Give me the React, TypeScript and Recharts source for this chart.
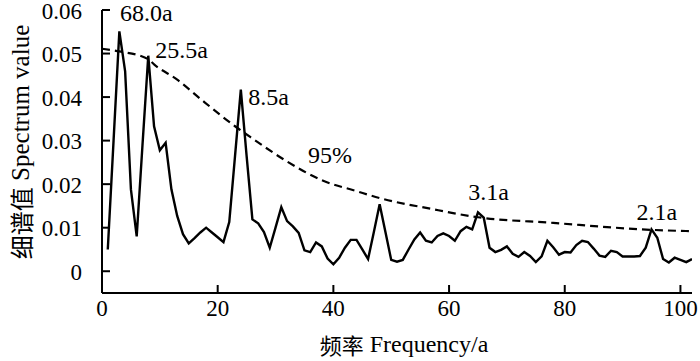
import React from 'react';
import { LineChart, Line, XAxis, YAxis, ReferenceDot } from 'recharts';

const freq = [
  1, 2, 3, 4, 5, 6, 7, 8, 9, 10, 11, 12, 13, 14, 15, 16, 17, 18, 19, 20,
  21, 22, 23, 24, 25, 26, 27, 28, 29, 30, 31, 32, 33, 34, 35, 36, 37, 38, 39, 40,
  41, 42, 43, 44, 45, 46, 47, 48, 49, 50, 51, 52, 53, 54, 55, 56, 57, 58, 59, 60,
  61, 62, 63, 64, 65, 66, 67, 68, 69, 70, 71, 72, 73, 74, 75, 76, 77, 78, 79, 80,
  81, 82, 83, 84, 85, 86, 87, 88, 89, 90, 91, 92, 93, 94, 95, 96, 97, 98, 99, 100,
  101, 102,
];

const spectrum = [
  0.005, 0.03, 0.0551, 0.0459, 0.0188, 0.008, 0.029, 0.0495, 0.0333, 0.0278,
  0.0295, 0.0188, 0.0127, 0.0085, 0.0064, 0.0076, 0.0089, 0.01, 0.0089, 0.0078,
  0.0067, 0.0113, 0.0265, 0.0417, 0.0265, 0.0119, 0.011, 0.009, 0.0054, 0.01,
  0.0147, 0.0115, 0.0103, 0.0088, 0.0048, 0.0044, 0.0066, 0.0057, 0.0029, 0.0016,
  0.0031, 0.0054, 0.0072, 0.0072, 0.005, 0.0028, 0.009, 0.0154, 0.009, 0.0026,
  0.0022, 0.0026, 0.005, 0.0073, 0.0089, 0.007, 0.0066, 0.0081, 0.0087, 0.0081,
  0.007, 0.0092, 0.0102, 0.0096, 0.0135, 0.0123, 0.0054, 0.0044, 0.0049, 0.0057,
  0.004, 0.0033, 0.0044, 0.0035, 0.0021, 0.0034, 0.007, 0.0055, 0.0038, 0.0044,
  0.0043, 0.006, 0.007, 0.0067, 0.0052, 0.0036, 0.0033, 0.0047, 0.0044, 0.0034,
  0.0034, 0.0034, 0.0035, 0.0054, 0.0096, 0.0077, 0.0028, 0.002, 0.0031, 0.0026,
  0.0021, 0.0028,
];

const noiseFreq = [0, 3, 8, 9, 13, 17, 23, 26, 32, 38, 44, 48, 57, 65, 78, 95, 102];
const noise95 = [
  0.0511, 0.0505, 0.0487, 0.0475, 0.044, 0.0396, 0.0333, 0.0305, 0.0252, 0.0209,
  0.0184, 0.0168, 0.0143, 0.0124, 0.0111, 0.0095, 0.0092,
];

const noteText = ['68.0a', '25.5a', '8.5a', '95%', '3.1a', '2.1a'];
const noteX = [3.1, 9.2, 25.3, 35.6, 63.3, 92.4];
const noteY = [0.0592, 0.0509, 0.04, 0.0268, 0.0181, 0.0136];

const xTicks = [0, 20, 40, 60, 80, 100];
const yTicks = [0, 0.01, 0.02, 0.03, 0.04, 0.05, 0.06];

const xLabelCn = '频率';
const xLabelEn = 'Frequency/a';
const yLabelCn = '细谱值';
const yLabelEn = 'Spectrum value';

const SERIF = '"Liberation Serif", "Times New Roman", serif';
const CJK = '"Noto Sans CJK SC", sans-serif';

const data = freq.map((f, i) => ({ f, v: spectrum[i] }));
const noiseData = noiseFreq.map((f, i) => ({ f, n: noise95[i] }));

const fmtY = (v: number) => (v === 0 ? '0' : v.toFixed(2));

const XTick = (p: any) => (
  <text
    x={p.x}
    y={p.y + 23}
    textAnchor="middle"
    dominantBaseline="central"
    fontSize={23}
    fill="#000"
    fontFamily={SERIF}
    style={{ fontFamily: SERIF }}
  >
    {p.payload.value}
  </text>
);

const YTick = (p: any) => (
  <text
    x={p.x - 28}
    y={p.y + 1}
    textAnchor="end"
    dominantBaseline="central"
    fontSize={23}
    fill="#000"
    fontFamily={SERIF}
    style={{ fontFamily: SERIF }}
  >
    {fmtY(p.payload.value)}
  </text>
);

export default function App() {
  return (
    <div style={{ position: 'absolute', left: 0, top: 0, background: '#fff', fontFamily: SERIF }}>
      <LineChart
        width={700}
        height={361}
        data={data}
        margin={{ top: 10, right: 8, bottom: 0, left: 0 }}
        style={{ fontFamily: SERIF }}
      >
        <XAxis
          dataKey="f"
          type="number"
          domain={[0, 102]}
          ticks={xTicks}
          allowDataOverflow
          height={68}
          tickSize={-8}
          tickMargin={0}
          axisLine={{ stroke: '#000', strokeWidth: 2 }}
          tickLine={{ stroke: '#000', strokeWidth: 2 }}
          tick={<XTick />}
          label={{
            content: () => (
              <text
                x={404}
                y={344}
                textAnchor="middle"
                dominantBaseline="central"
                fontSize={24}
                fill="#000"
                fontFamily={SERIF}
                style={{ fontFamily: SERIF }}
              >
                <tspan style={{ fontFamily: CJK }} fontSize={22}>{xLabelCn}</tspan>
                <tspan> {xLabelEn}</tspan>
              </text>
            ),
          }}
        />
        <YAxis
          type="number"
          domain={[-0.005, 0.06]}
          ticks={yTicks}
          allowDataOverflow
          width={102}
          tickSize={-8}
          tickMargin={0}
          axisLine={{ stroke: '#000', strokeWidth: 2 }}
          tickLine={{ stroke: '#000', strokeWidth: 2 }}
          tick={<YTick />}
          label={{
            content: () => (
              <text
                x={20}
                y={142}
                transform="rotate(-90, 20, 142)"
                textAnchor="middle"
                dominantBaseline="central"
                fontSize={25}
                fill="#000"
                fontFamily={SERIF}
                style={{ fontFamily: SERIF }}
              >
                <tspan style={{ fontFamily: CJK }} fontSize={24}>{yLabelCn}</tspan>
                <tspan> {yLabelEn}</tspan>
              </text>
            ),
          }}
        />
        <Line
          data={noiseData}
          dataKey="n"
          type="monotone"
          stroke="#000"
          strokeWidth={2.2}
          strokeDasharray="8 5"
          dot={false}
          activeDot={false}
          isAnimationActive={false}
        />
        <Line
          dataKey="v"
          type="linear"
          stroke="#000"
          strokeWidth={2.4}
          dot={false}
          activeDot={false}
          isAnimationActive={false}
        />
        {noteText.map((t, i) => (
          <ReferenceDot
            key={t}
            x={noteX[i]}
            y={noteY[i]}
            r={0}
            ifOverflow="visible"
            shape={(p: any) => (
              <text
                x={p.cx}
                y={p.cy}
                textAnchor="start"
                dominantBaseline="central"
                fontSize={24}
                fill="#000"
                fontFamily={SERIF}
                style={{ fontFamily: SERIF }}
              >
                {t}
              </text>
            )}
          />
        ))}
      </LineChart>
    </div>
  );
}
